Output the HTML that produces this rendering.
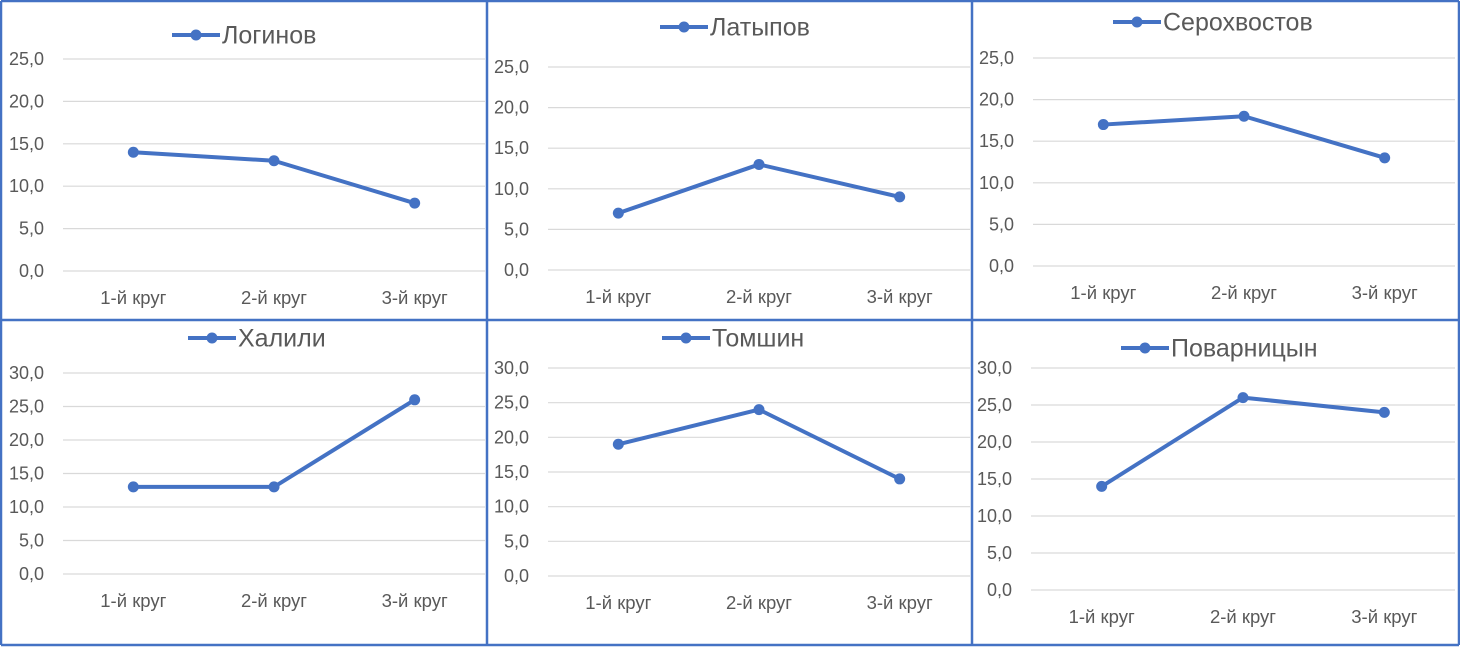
<!DOCTYPE html>
<html><head><meta charset="utf-8"><style>
html,body{margin:0;padding:0;background:#fff}
svg{display:block}
text{font-family:"Liberation Sans",sans-serif;fill:#595959}
</style></head><body>
<svg id="chart" width="1460" height="647" viewBox="0 0 1460 647" xmlns="http://www.w3.org/2000/svg"></svg>
<script>
const categories = ["1-й круг","2-й круг","3-й круг"];
const names = ["Логинов","Латыпов","Серохвостов","Халили","Томшин","Поварницын"];
const loginovValues = [14,13,8];
const latypovValues = [7,13,9];
const serokhvostovValues = [17,18,13];
const khaliliValues = [13,13,26];
const tomshinValues = [19,24,14];
const povarnitsynValues = [14,26,24];
const seriesValues = [loginovValues,latypovValues,serokhvostovValues,khaliliValues,tomshinValues,povarnitsynValues];
const axisMax = [25,25,25,30,30,30];
const tickStep = 5;

const layout = [
 {x0:0,   gx0:63,  gx1:485,  yTop:59,  yZero:271, catY:298, legY:35, legX:172},
 {x0:487, gx0:548, gx1:970,  yTop:67,  yZero:270, catY:297, legY:27, legX:660},
 {x0:972, gx0:1033,gx1:1455, yTop:58,  yZero:266, catY:293, legY:22, legX:1113},
 {x0:0,   gx0:63,  gx1:485,  yTop:373, yZero:574, catY:601, legY:338, legX:188},
 {x0:487, gx0:548, gx1:970,  yTop:368, yZero:576, catY:603, legY:338, legX:662},
 {x0:972, gx0:1031,gx1:1455, yTop:368, yZero:590, catY:617, legY:348, legX:1121}
];
const NS="http://www.w3.org/2000/svg";
const svg=document.getElementById('chart');
function mk(tag,attrs,parent){const e=document.createElementNS(NS,tag);for(const k in attrs)e.setAttribute(k,attrs[k]);(parent||svg).appendChild(e);return e;}

seriesValues.forEach((vals,i)=>{
  const L=layout[i];
  const g=mk('g',{});
  
  
  const max=axisMax[i];
  const yS=v=>L.yZero-(v/max)*(L.yZero-L.yTop);
  const band=(L.gx1-L.gx0)/categories.length;
  const xS=j=>L.gx0+band*(j+0.5);
  for(let t=0;t<=max;t+=tickStep){
    const y=yS(t);
    const gl=mk('line',{x1:L.gx0,x2:L.gx1,y1:y,y2:y,stroke:'#d9d9d9','stroke-width':1.2},g);
    
    
    const tl=mk('text',{x:L.gx0-19,y:y+6,'text-anchor':'end','font-size':18},g);
    tl.textContent=t.toFixed(1).replace('.',',');
    
    
  }
  categories.forEach((c,j)=>{
    const ct=mk('text',{x:xS(j),y:L.catY+6,'text-anchor':'middle','font-size':18.5},g);
    ct.textContent=c;
    
    
  });
  const pts=vals.map((v,j)=>xS(j)+','+yS(v)).join(' ');
  const pl=mk('polyline',{points:pts,fill:'none',stroke:'#4472c4','stroke-width':4,'stroke-linejoin':'round'},g);
  
  
  vals.forEach((v,j)=>{
    const c=mk('circle',{cx:xS(j),cy:yS(v),r:5.5,fill:'#4472c4'},g);
    
    
  });
  const lg=mk('g',{},g);
  
  
  mk('line',{x1:L.legX,x2:L.legX+48,y1:L.legY,y2:L.legY,stroke:'#4472c4','stroke-width':4},lg);
  mk('circle',{cx:L.legX+24,cy:L.legY,r:5.5,fill:'#4472c4'},lg);
  const lt=mk('text',{x:L.legX+50,y:L.legY+8.5,'font-size':25},lg);
  lt.textContent=names[i];
});

const borders=[[1,1,1459,1],[1,645,1459,645],[1,1,1,645],[1459,1,1459,645],[487,1,487,645],[972,1,972,645],[1,320,1459,320]];
borders.forEach(b=>{
  const l=mk('line',{x1:b[0],y1:b[1],x2:b[2],y2:b[3],stroke:'#4472c4','stroke-width':2.5});
  
  
});
</script>
</body></html>
